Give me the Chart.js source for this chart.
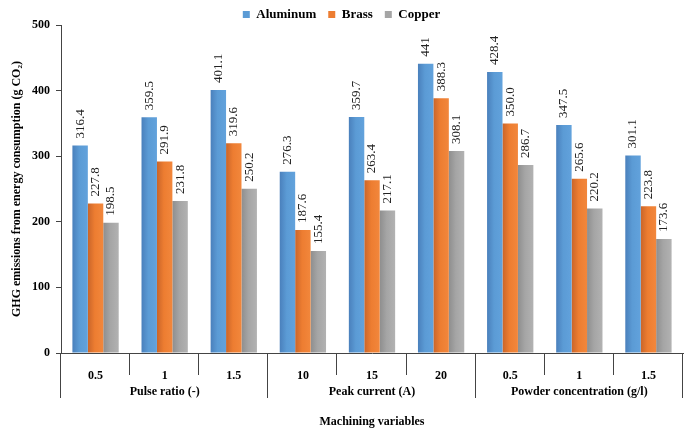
<!DOCTYPE html>
<html>
<head>
<meta charset="utf-8">
<script src="https://cdn.jsdelivr.net/npm/chart.js@4.4.1/dist/chart.umd.min.js"></script>
<style>
  html, body { margin: 0; padding: 0; background: #fff; }
  #wrap { width: 685px; height: 432px; }
</style>
</head>
<body>
<div id="wrap"><canvas id="chart" width="685" height="432"></canvas></div>
<script>
// ---------------------------------------------------------------------------
// Data
// ---------------------------------------------------------------------------

const subLabels = ["0.5", "1", "1.5", "10", "15", "20", "0.5", "1", "1.5"];
const groupLabels = ["Pulse ratio (-)", "Peak current (A)", "Powder concentration (g/l)"];
const groupSize = 3;

// values kept as text so the labels print exactly as in the figure ("441", "350.0")
const aluminum = ["316.4", "359.5", "401.1", "276.3", "359.7", "441", "428.4", "347.5", "301.1"];
const brass    = ["227.8", "291.9", "319.6", "187.6", "263.4", "388.3", "350.0", "265.6", "223.8"];
const copper   = ["198.5", "231.8", "250.2", "155.4", "217.1", "308.1", "286.7", "220.2", "173.6"];

const yTicks = [0, 100, 200, 300, 400, 500];

const SERIF = "'Liberation Serif', 'Times New Roman', serif";
const AXIS_COLOR = "#444";
const CAT_PCT = 0.67;

// dark left edge -> lighter body, like the Excel bar shading
const shades = [
    ["#4A80BC", "#5B9BD5", "#62A2DC"],
    ["#C9652A", "#ED7D31", "#F2873C"],
    ["#8E8E8E", "#A5A5A5", "#B2B2B2"],
];

function barFill(context) {
    const { chart, datasetIndex, dataIndex } = context;
    const x = chart.scales.x;
    const base = shades[datasetIndex];
    if (!chart.chartArea || !x) return base[1];
    const step = x.getPixelForValue(1) - x.getPixelForValue(0);
    const w = (step * CAT_PCT) / 3;
    const left = x.getPixelForValue(dataIndex) - 1.5 * w + datasetIndex * w;
    const g = chart.ctx.createLinearGradient(left, 0, left + w, 0);
    g.addColorStop(0, base[0]);
    g.addColorStop(0.45, base[1]);
    g.addColorStop(1, base[2]);
    return g;
}

// ---------------------------------------------------------------------------
// Plugins: tighter legend box, rotated value labels, two-level category axis
// ---------------------------------------------------------------------------

const tightLegend = {
    id: "tightLegend",
    beforeInit(chart) {
        const fit = chart.legend.fit;
        chart.legend.fit = function () {
            fit.call(this);
            this.height -= 6;
        };
    },
};

const valueLabels = {
    id: "valueLabels",
    afterDatasetsDraw(chart) {
        const ctx = chart.ctx;
        ctx.save();
        ctx.font = "13px " + SERIF;
        ctx.fillStyle = "#222";
        ctx.textAlign = "left";
        ctx.textBaseline = "middle";
        chart.data.datasets.forEach((ds, di) => {
            chart.getDatasetMeta(di).data.forEach((bar, i) => {
                ctx.save();
                ctx.translate(bar.x, bar.y - 7);
                ctx.rotate(-Math.PI / 2);
                ctx.fillText(ds.data[i], 0, 0);
                ctx.restore();
            });
        });
        ctx.restore();
    },
};

const groupAxis = {
    id: "groupAxis",
    afterDraw(chart) {
        const { ctx, scales: { x, y } } = chart;
        const base = y.getPixelForValue(0);
        const n = subLabels.length;
        const step = x.getPixelForValue(1) - x.getPixelForValue(0);
        const edge = (i) => x.getPixelForValue(0) + (i - 0.5) * step;

        ctx.save();
        ctx.strokeStyle = AXIS_COLOR;
        ctx.lineWidth = 1;

        // y axis line continues down through the label rows
        ctx.beginPath();
        ctx.moveTo(Math.round(y.right) - 0.5, base);
        ctx.lineTo(Math.round(y.right) - 0.5, base + 45);
        ctx.stroke();

        for (let i = 1; i <= n; i++) {
            const px = Math.round(edge(i)) - 0.5;
            const long = i % groupSize === 0;
            ctx.beginPath();
            ctx.moveTo(px, base);
            ctx.lineTo(px, base + (long ? 45 : 22));
            ctx.stroke();
        }

        ctx.fillStyle = "#000";
        ctx.font = "bold 12px " + SERIF;
        ctx.textAlign = "center";
        ctx.textBaseline = "middle";
        groupLabels.forEach((g, gi) => {
            const cx = (edge(gi * groupSize) + edge((gi + 1) * groupSize)) / 2;
            ctx.fillText(g, cx, base + 39);
        });
        ctx.restore();
    },
};

// ---------------------------------------------------------------------------
// Chart
// ---------------------------------------------------------------------------

Chart.defaults.font.family = SERIF;
Chart.defaults.color = "#000";

new Chart(document.getElementById("chart"), {
    type: "bar",
    data: {
        labels: subLabels,
        datasets: [
            { label: "Aluminum", data: aluminum, backgroundColor: barFill },
            { label: "Brass", data: brass, backgroundColor: barFill },
            { label: "Copper", data: copper, backgroundColor: barFill },
        ],
    },
    options: {
        responsive: false,
        animation: false,
        layout: { padding: { top: -4, right: 2, left: 0, bottom: 0 } },
        datasets: { bar: { categoryPercentage: CAT_PCT, barPercentage: 1.0 } },
        plugins: {
            legend: {
                position: "top",
                labels: {
                    boxWidth: 7,
                    boxHeight: 7,
                    padding: 12,
                    color: "#000",
                    font: { size: 13, weight: "bold", family: SERIF },
                    generateLabels: (chart) =>
                        chart.data.datasets.map((ds, i) => ({
                            text: ds.label,
                            fillStyle: shades[i][1],
                            strokeStyle: shades[i][1],
                            lineWidth: 0,
                            datasetIndex: i,
                            hidden: false,
                        })),
                },
            },
            tooltip: { enabled: false },
        },
        scales: {
            x: {
                grid: { display: false },
                border: { display: true, color: AXIS_COLOR },
                ticks: { padding: 8, font: { size: 12, weight: "bold" }, maxRotation: 0 },
                title: {
                    display: true,
                    text: "Machining variables",
                    font: { size: 12, weight: "bold" },
                    padding: { top: 0, bottom: 3 },
                },
                afterFit: (s) => { s.height = 79; },
            },
            y: {
                min: 0,
                max: 500,
                afterBuildTicks: (s) => { s.ticks = yTicks.map((v) => ({ value: v })); },
                grid: { drawOnChartArea: false, drawTicks: true, tickLength: 5, color: AXIS_COLOR },
                border: { display: true, color: AXIS_COLOR },
                ticks: { padding: 6, font: { size: 12, weight: "bold" } },
                title: {
                    display: true,
                    text: "GHG emissions from energy consumption (g CO₂)",
                    font: { size: 12, weight: "bold" },
                    padding: { top: 10, bottom: 0 },
                },
                afterFit: (s) => { s.width = 61; },
            },
        },
    },
    plugins: [tightLegend, valueLabels, groupAxis],
});
</script>
</body>
</html>
